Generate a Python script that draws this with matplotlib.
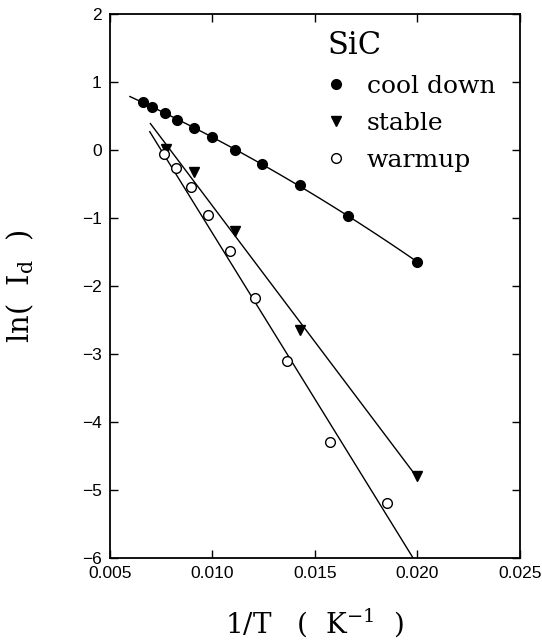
import numpy as np
import matplotlib
matplotlib.use("Agg")
import matplotlib.pyplot as plt

# points (x = 1/T, y = ln(Id))
cool_x = [0.00661, 0.00707, 0.00767, 0.00829, 0.00910, 0.01000, 0.01109, 0.01242, 0.01426, 0.01661, 0.02000]
cool_y = [0.71, 0.64, 0.54, 0.44, 0.32, 0.19, 0.00, -0.21, -0.51, -0.97, -1.65]

stable_x = [0.00771, 0.00910, 0.01109, 0.01426, 0.02000]
stable_y = [0.02, -0.33, -1.19, -2.64, -4.79]

warm_x = [0.00762, 0.00824, 0.00893, 0.00979, 0.01084, 0.01206, 0.01366, 0.01572, 0.01852]
warm_y = [-0.06, -0.26, -0.55, -0.96, -1.48, -2.18, -3.10, -4.30, -5.19]

# drawn fit lines (end points)
stable_fit_x = [0.00697, 0.01995]
stable_fit_y = [0.39, -4.80]
warm_fit_x = [0.00694, 0.01979]
warm_fit_y = [0.27, -6.00]
cool_fit_range = [0.00597, 0.01995]

serif = "DejaVu Serif"
plt.rcParams["mathtext.fontset"] = "dejavuserif"

fig = plt.figure(figsize=(5.42, 6.42), dpi=100)
ax = fig.add_axes([0.203, 0.131, 0.756, 0.847])

# cool down curve: quadratic through the points
c = np.polyfit(cool_x, cool_y, 2)
xx = np.linspace(cool_fit_range[0], cool_fit_range[1], 100)
ax.plot(xx, np.polyval(c, xx), color="black", lw=1.0)
ax.plot(stable_fit_x, stable_fit_y, color="black", lw=1.0)
ax.plot(warm_fit_x, warm_fit_y, color="black", lw=1.0)

ax.plot(cool_x, cool_y, "o", color="black", ms=7, ls="none", label="cool down")
ax.plot(stable_x, stable_y, "v", color="black", ms=7, ls="none", label="stable")
ax.plot(warm_x, warm_y, "o", mfc="white", mec="black", mew=1.0, ms=7, ls="none", label="warmup")

ax.set_xlim(0.005, 0.025)
ax.set_ylim(-6, 2)
ax.set_xticks([0.005, 0.010, 0.015, 0.020, 0.025])
ax.set_xticklabels(["0.005", "0.010", "0.015", "0.020", "0.025"])
ax.set_yticks(range(-6, 3))
ax.tick_params(direction="in", top=True, right=True, length=6, width=1,
               labelsize=12.5, pad=6)
for lab in ax.get_xticklabels() + ax.get_yticklabels():
    lab.set_family("Liberation Sans")
for s in ax.spines.values():
    s.set_linewidth(1.3)

ax.set_xlabel("1/T   (  K$^{-1}$  )", fontsize=20, family=serif, labelpad=18)
ax.set_ylabel("ln(  I$_{\\rm d}$  )", fontsize=21, family=serif)
ax.yaxis.set_label_coords(-0.18, 0.5)

leg = ax.legend(title="SiC", loc="upper left", bbox_to_anchor=(0.49, 1.0),
                frameon=False, handlelength=0.7, handletextpad=0.9,
                labelspacing=0.55, borderaxespad=0.25,
                prop={"family": serif, "size": 18},
                title_fontproperties={"family": serif, "size": 22})
leg._legend_box.align = "left"

fig.savefig("out.png", dpi=100)
